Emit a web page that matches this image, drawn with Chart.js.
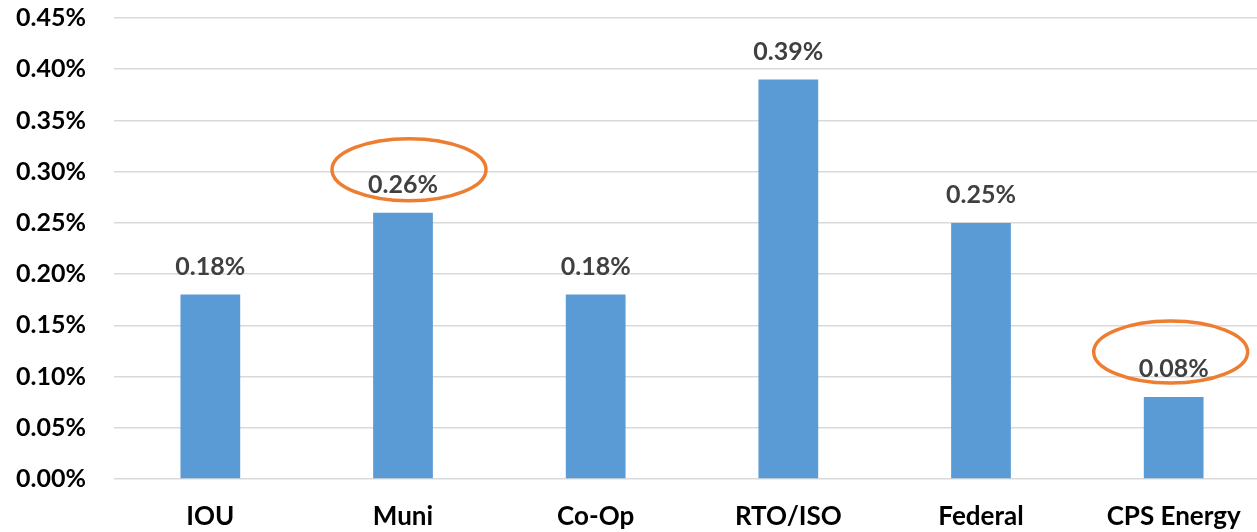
<!DOCTYPE html>
<html><head><meta charset="utf-8">
<script src="https://cdn.jsdelivr.net/npm/chart.js@4/dist/chart.umd.min.js"></script>
<style>html,body{margin:0;padding:0;overflow:hidden;background:#fff}#wrap{width:1270px;height:532px;position:relative}</style>
</head><body><div id="wrap"><canvas id="c" width="1270" height="532"></canvas></div>
<script>
const categories = ["IOU", "Muni", "Co-Op", "RTO/ISO", "Federal", "CPS Energy"];
const values = [0.18, 0.26, 0.18, 0.39, 0.25, 0.08];
const highlighted = ["Muni", "CPS Energy"];
const yTicks = [0, 0.05, 0.10, 0.15, 0.20, 0.25, 0.30, 0.35, 0.40, 0.45];

const FONT = "Lato, 'Open Sans', 'DejaVu Sans', sans-serif";
const ellipseOffsets = { "Muni": [6, -43], "CPS Energy": [-3, -45] };

const labelPlugin = {
  id: 'labels',
  afterDatasetsDraw(chart) {
    const ctx = chart.ctx;
    const meta = chart.getDatasetMeta(0);
    ctx.save();
    ctx.font = "bold 25px " + FONT;
    ctx.fillStyle = "#404040";
    ctx.textAlign = "center";
    ctx.textBaseline = "middle";
    meta.data.forEach((bar, i) => {
      const ty = bar.y - 28;
      ctx.fillText(values[i].toFixed(2) + "%", bar.x, ty);
      const off = ellipseOffsets[categories[i]];
      if (off) {
        ctx.beginPath();
        ctx.strokeStyle = "#ED7D31";
        ctx.lineWidth = 3.5;
        ctx.ellipse(bar.x + off[0], bar.y + off[1], 77, 31, 0, 0, Math.PI * 2);
        ctx.stroke();
      }
    });
    ctx.restore();
  }
};

new Chart(document.getElementById('c'), {
  type: 'bar',
  data: {
    labels: categories,
    datasets: [{
      data: values,
      backgroundColor: '#5B9BD5',
      borderWidth: 0,
      barPercentage: 0.31,
      categoryPercentage: 1.0
    }]
  },
  options: {
    responsive: false,
    animation: false,
    layout: { padding: { top: 18, right: 0, left: 0, bottom: 0 } },
    plugins: { legend: { display: false }, tooltip: { enabled: false } },
    scales: {
      x: {
        grid: { display: false, drawTicks: false },
        border: { display: false },
        ticks: { color: '#000', font: { family: FONT, size: 26, weight: 'bold' }, padding: 22 },
        afterFit(s) { s.height = 53; s.paddingLeft = 0; s.paddingRight = 0; }
      },
      y: {
        min: 0, max: 0.45,
        afterBuildTicks(s) { s.ticks = yTicks.map(v => ({ value: v })); },
        grid: { color: '#D9D9D9', lineWidth: 1.5, drawTicks: false },
        border: { display: false },
        ticks: {
          color: '#000', padding: 28,
          font: { family: FONT, size: 25, weight: 'bold' },
          callback: v => v.toFixed(2) + '%'
        },
        afterFit(s) { s.width = 114; s.paddingTop = 0; s.paddingBottom = 0; }
      }
    }
  },
  plugins: [labelPlugin]
});
</script></body></html>
